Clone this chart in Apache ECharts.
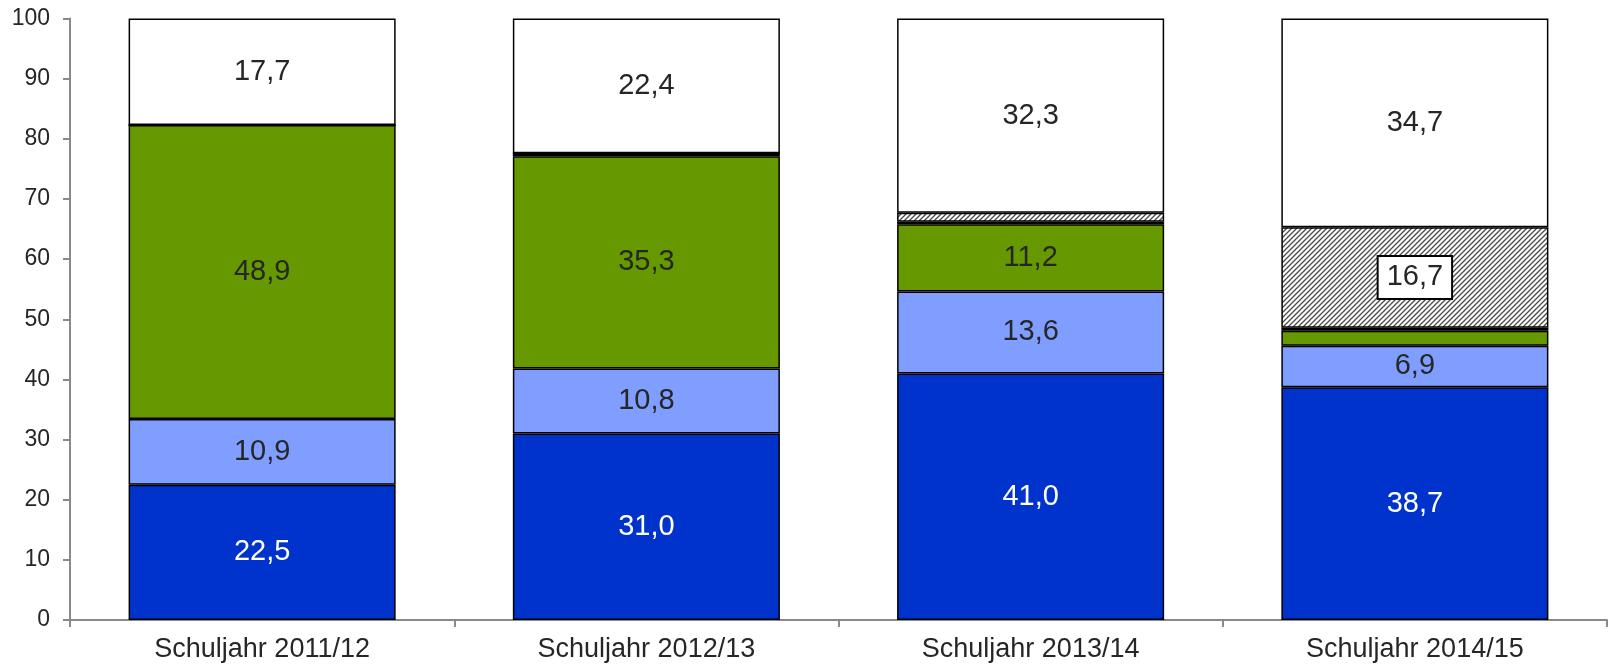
<!DOCTYPE html>
<html>
<head>
<meta charset="utf-8">
<script src="https://cdn.jsdelivr.net/npm/echarts@6/dist/echarts.min.js"></script>
<style>html,body{margin:0;padding:0;background:#fff}#c{width:1610px;height:667px}</style>
</head>
<body>
<div id="c"></div>
<script>
const categories = ['Schuljahr 2011/12', 'Schuljahr 2012/13', 'Schuljahr 2013/14', 'Schuljahr 2014/15'];
const seriesDarkBlue = [22.5, 31.0, 41.0, 38.7];
const seriesLightBlue = [10.9, 10.8, 13.6, 6.9];
const seriesGreen = [48.9, 35.3, 11.2, 2.5];
const seriesRed = [0, 0.5, 0.4, 0.5];
const seriesHatch = [0, 0, 1.5, 16.7];
const seriesWhite = [17.7, 22.4, 32.3, 34.7];
const yTicks = [0, 10, 20, 30, 40, 50, 60, 70, 80, 90, 100];

const FONT = 'Liberation Sans, Arial, sans-serif';
const TXT = '#262626';

// hatch pattern
const pc = document.createElement('canvas');
pc.width = 5; pc.height = 5;
const g = pc.getContext('2d');
g.fillStyle = '#fff'; g.fillRect(0, 0, 5, 5);
g.strokeStyle = '#4a4a4a'; g.lineWidth = 1.3;
g.beginPath();
g.moveTo(-1, 6); g.lineTo(6, -1);
g.moveTo(-4, 4); g.lineTo(4, -4);
g.moveTo(1, 9); g.lineTo(9, 1);
g.stroke();

const fmt = v => v.toFixed(1).replace('.', ',');

function mk(name, values, color, labelColor, extraLabel) {
  return {
    name, type: 'bar', stack: 'a', barCategoryGap: '30.5%',
    itemStyle: { color, borderColor: '#000', borderWidth: 1.5 },
    data: values.map(v => ({
      value: v,
      label: { show: v >= 5 }
    })),
    label: Object.assign({
      position: 'inside', color: labelColor, fontSize: 29, fontFamily: FONT,
      formatter: p => fmt(p.value)
    }, extraLabel || {})
  };
}

const chart = echarts.init(document.getElementById('c'), null, { renderer: 'canvas' });
chart.setOption({
  animation: false,
  grid: { left: 70, right: 3, top: 18.5, bottom: 47, containLabel: false },
  xAxis: {
    type: 'category', data: categories,
    axisLine: { lineStyle: { color: '#898989', width: 2 } },
    axisTick: { show: true, length: 7, lineStyle: { color: '#898989', width: 2 } },
    axisLabel: { color: TXT, fontSize: 27, fontFamily: FONT, margin: 16 }
  },
  yAxis: {
    type: 'value', min: yTicks[0], max: yTicks[yTicks.length - 1], interval: 10,
    axisLine: { show: true, lineStyle: { color: '#898989', width: 2 } },
    axisTick: { show: true, length: 7, lineStyle: { color: '#898989', width: 2 } },
    splitLine: { show: false },
    axisLabel: { color: TXT, fontSize: 23, fontFamily: FONT, margin: 20 }
  },
  series: [
    mk('a', seriesDarkBlue, '#0033CC', '#fff'),
    mk('b', seriesLightBlue, '#809EFF', TXT),
    mk('c', seriesGreen, '#669900', TXT),
    mk('d', seriesRed, '#993322', TXT),
    mk('e', seriesHatch, { image: pc, repeat: 'repeat' }, TXT,
       { backgroundColor: '#fff', borderColor: '#000', borderWidth: 2, padding: [7, 8, 5, 8] }),
    mk('f', seriesWhite, '#fff', TXT)
  ]
});
</script>
</body>
</html>
